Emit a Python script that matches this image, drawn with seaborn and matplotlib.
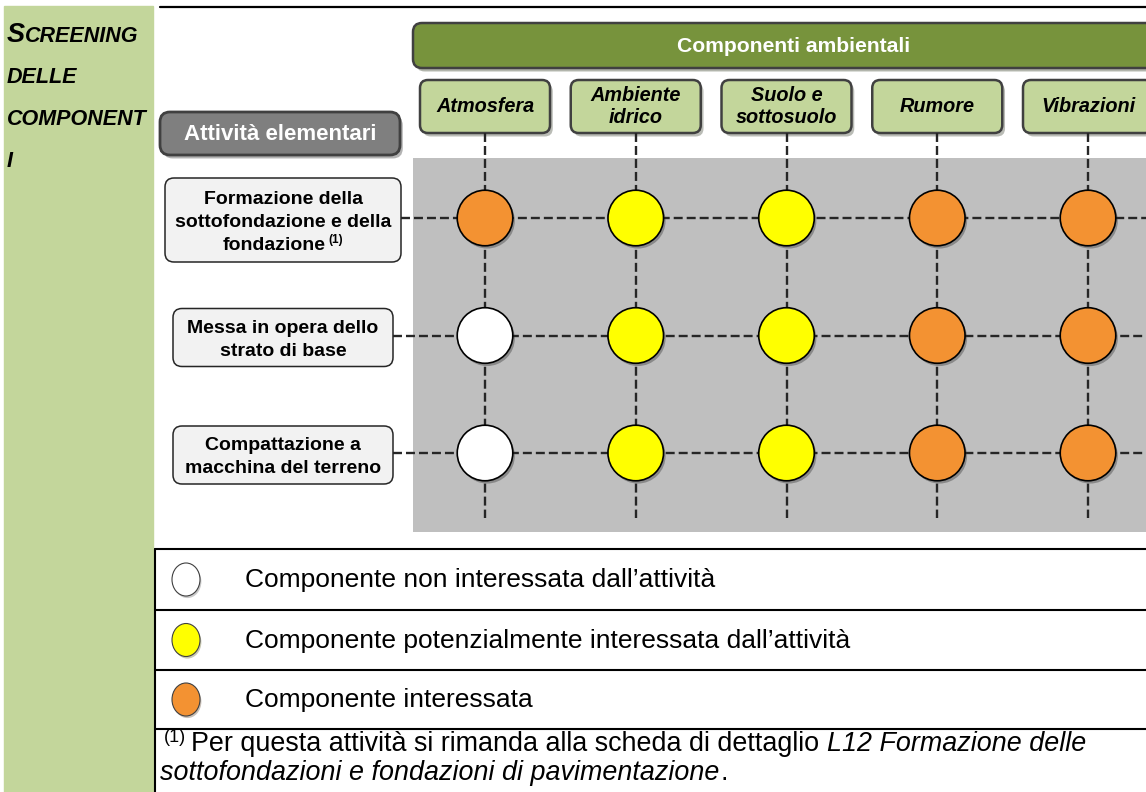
import numpy as np
import pandas as pd
import matplotlib.pyplot as plt
import seaborn as sns
from matplotlib.patches import FancyBboxPatch, Rectangle, Ellipse
from matplotlib import patheffects as pe
from matplotlib.transforms import blended_transform_factory

# ---- data -------------------------------------------------------------
components = ["Atmosfera", "Ambiente\nidrico", "Suolo e\nsottosuolo", "Rumore", "Vibrazioni"]
activities = [
    "Formazione della\nsottofondazione e della\nfondazione",
    "Messa in opera dello\nstrato di base",
    "Compattazione a\nmacchina del terreno",
]
activity_notes = ["(1)", "", ""]
# 0 = non interessata, 1 = potenzialmente interessata, 2 = interessata
status = [
    [2, 1, 1, 2, 2],
    [0, 1, 1, 2, 2],
    [0, 1, 1, 2, 2],
]
legend_labels = [
    "Componente non interessata dall’attività",
    "Componente potenzialmente interessata dall’attività",
    "Componente interessata",
]
status_colors = ["#FFFFFF", "#FFFF00", "#F39232"]
sidebar_lines = ["SCREENING", "DELLE", "COMPONENT", "I"]
header_title = "Componenti ambientali"
activity_title = "Attività elementari"
footnote_1 = "Per questa attività si rimanda alla scheda di dettaglio "
footnote_1_it = "L12 Formazione delle"
footnote_2_it = "sottofondazioni e fondazioni di pavimentazione"

rows = []
for i, act in enumerate(activities):
    for j, comp in enumerate(components):
        rows.append({"comp": comp, "act": act, "level": legend_labels[status[i][j]]})
df = pd.DataFrame(rows)

# ---- figure -----------------------------------------------------------
sns.set_style("white")
plt.rcParams["font.family"] = ["Liberation Sans", "DejaVu Sans"]
plt.rcParams["text.color"] = "black"

W, H = 1146, 792
fig = plt.figure(figsize=(W / 100, H / 100), dpi=100)
bg = fig.add_axes([0, 0, 1, 1])
bg.set_xlim(0, W)
bg.set_ylim(H, 0)
bg.axis("off")

# matrix axes over the grey area
gx0, gx1, gy0, gy1 = 413, W, 158, 532
ax = fig.add_axes([gx0 / W, 1 - gy1 / H, (gx1 - gx0) / W, (gy1 - gy0) / H])
ax.set_facecolor("#BFBFBF")

pal = dict(zip(legend_labels, status_colors))
sns.scatterplot(
    data=df, x="comp", y="act", hue="level", hue_order=legend_labels,
    palette=pal, s=1600, edgecolor="black", linewidth=1.2, legend=False,
    ax=ax, zorder=5,
)
col_step, row_step = 150.75, 117.5
ax.set_xlim((gx0 - 485) / col_step, (gx1 - 485) / col_step)
ax.set_ylim((gy1 - 218) / row_step, (gy0 - 218) / row_step)
ax.set_xticks([])
ax.set_yticks([])
ax.set_xlabel("")
ax.set_ylabel("")
for sp in ax.spines.values():
    sp.set_visible(False)
for coll in ax.collections:
    coll.set_path_effects([pe.SimplePatchShadow(offset=(1.5, -2), shadow_rgbFace=(0.15, 0.15, 0.15),
                                                alpha=0.35), pe.Normal()])


def to_px(i, j):
    return bg.transData.inverted().transform(ax.transData.transform((i, j)))


renderer = fig.canvas.get_renderer()


def text_runs(x, y, runs, align="left"):
    items = []
    for s, kw, dy, gap in runs:
        t = bg.text(0, 0, s, va="baseline", ha="left", **kw)
        w = t.get_window_extent(renderer).width
        items.append((t, w, dy, gap))
    total = sum(w + g for _, w, _, g in items)
    cx = x - total / 2 if align == "center" else x
    for t, w, dy, gap in items:
        cx += gap
        t.set_position((cx, y + dy))
        cx += w


dash = (0, (3.8, 1.7))
dcol = "#262626"

# ---- sidebar ----------------------------------------------------------
bg.add_patch(Rectangle((4, 6), 149, H, color="#C3D69B", zorder=1))
bi = dict(fontweight="bold", fontstyle="italic", color="black")
text_runs(7, 42, [(sidebar_lines[0][0], dict(fontsize=19.5, **bi), 0, 0),
                  (sidebar_lines[0][1:], dict(fontsize=15.5, **bi), 0, 0)])
for k, line in enumerate(sidebar_lines[1:]):
    bg.text(7, 83 + 42 * k, line, fontsize=15.5, va="baseline", **bi)

bg.plot([160, W], [6.5, 6.5], color="black", lw=1.6)

# ---- header bars ------------------------------------------------------
shadow = [pe.SimplePatchShadow(offset=(2, -2.5), alpha=0.35), pe.Normal()]
bg.add_patch(FancyBboxPatch((413, 23), 780, 45, boxstyle="round,pad=0,rounding_size=9",
                            fc="#77933C", ec="#404040", lw=1.8, path_effects=shadow, zorder=2))
bg.text(794, 46, header_title, color="white", fontsize=15.2, fontweight="bold",
        ha="center", va="center", zorder=3)

for j, comp in enumerate(components):
    cx = to_px(j, 0)[0]
    bg.add_patch(FancyBboxPatch((cx - 65, 80), 130, 53, boxstyle="round,pad=0,rounding_size=8",
                                fc="#C3D69B", ec="#404040", lw=1.8, path_effects=shadow, zorder=2))
    bg.text(cx, 106.5, comp, fontsize=14.3, fontweight="bold", fontstyle="italic",
            ha="center", va="center", linespacing=1.15, zorder=3)

bg.add_patch(FancyBboxPatch((160, 112), 240, 43, boxstyle="round,pad=0,rounding_size=10",
                            fc="#7F7F7F", ec="#404040", lw=2, path_effects=shadow, zorder=2))
bg.text(280, 134, activity_title, color="white", fontsize=16, fontweight="bold",
        ha="center", va="center", zorder=3)

# ---- activity boxes ---------------------------------------------------
box_w = [236, 220, 220]
for i, act in enumerate(activities):
    cy = to_px(0, i)[1]
    lines = act.split("\n")
    h = 26 * len(lines) + 6
    bg.add_patch(FancyBboxPatch((283 - box_w[i] / 2, cy - h / 2 + 2), box_w[i], h,
                                boxstyle="round,pad=0,rounding_size=9",
                                fc="#F2F2F2", ec="#262626", lw=1.1, zorder=2))
    for k, line in enumerate(lines):
        base = cy + 2 + (k - (len(lines) - 1) / 2) * 23 + 7
        runs = [(line, dict(fontsize=14, fontweight="bold"), 0, 0)]
        if k == len(lines) - 1 and activity_notes[i]:
            runs.append((activity_notes[i], dict(fontsize=8.5, fontweight="bold"), -7, 3))
        text_runs(283, base, runs, align="center")

# ---- dashed connectors ------------------------------------------------
tr_h = blended_transform_factory(bg.transData, ax.transData)
tr_v = blended_transform_factory(ax.transData, bg.transData)
for i in range(len(activities)):
    ax.plot([283 + box_w[i] / 2, W], [i, i], transform=tr_h, color=dcol, lw=1.7,
            linestyle=dash, clip_on=False, zorder=2)
for j in range(len(components)):
    ax.plot([j, j], [133, 518], transform=tr_v, color=dcol, lw=1.7,
            linestyle=dash, clip_on=False, zorder=2)

# ---- legend table -----------------------------------------------------
row_lines = [549, 610, 670, 729]
for y in row_lines:
    bg.plot([155, W], [y, y], color="black", lw=1.5, zorder=2)
bg.plot([155, 155], [549, H], color="black", lw=1.5, zorder=2)
for k, (lab, col) in enumerate(zip(legend_labels, status_colors)):
    cy = (row_lines[k] + row_lines[k + 1]) / 2
    bg.add_patch(Ellipse((186, cy), 28, 33, fc=col, ec="#404040", lw=0.8,
                         path_effects=[pe.SimplePatchShadow(offset=(1, -1.5), alpha=0.3), pe.Normal()],
                         zorder=3))
    bg.text(245, cy + 1, lab, fontsize=19, ha="left", va="center", zorder=3)

text_runs(164, 751, [("(1)", dict(fontsize=13), -9, 0),
                     (footnote_1, dict(fontsize=19.4), 0, 5),
                     (footnote_1_it, dict(fontsize=19.4, fontstyle="italic"), 0, 0)])
text_runs(160, 780, [(footnote_2_it, dict(fontsize=19.4, fontstyle="italic"), 0, 0),
                     (".", dict(fontsize=19.4), 0, 1)])

fig.savefig("out.png", dpi=100)
